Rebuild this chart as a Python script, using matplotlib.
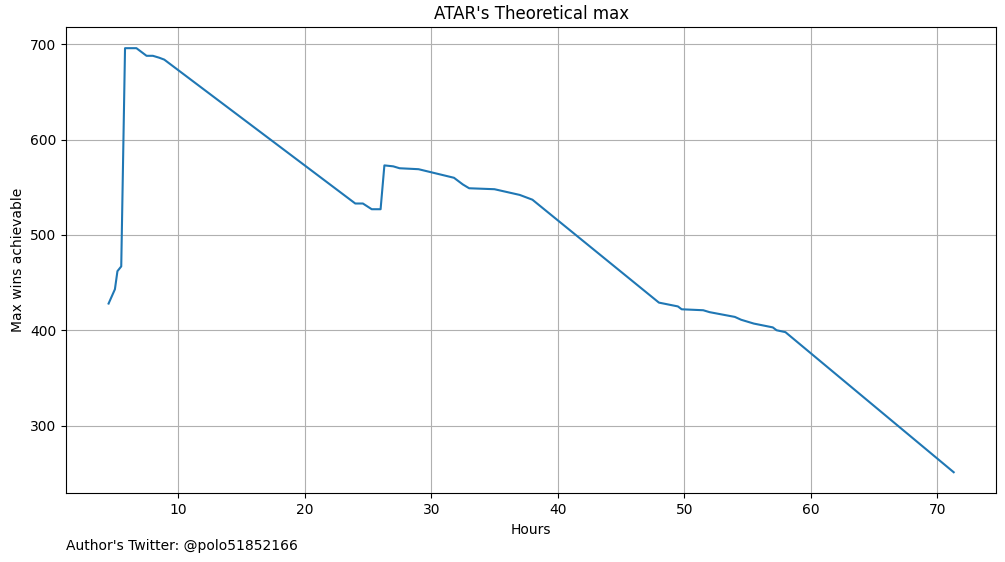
import numpy as np
import matplotlib
matplotlib.use("Agg")
import matplotlib.pyplot as plt

hours = [4.5, 5.0, 5.2, 5.5, 5.8, 6.7, 7.0, 7.5, 8.0, 8.5, 8.9, 9.2,
         24.0, 24.6, 25.3, 26.0, 26.3, 27.0, 27.5, 29.0, 31.8, 32.5, 33.0,
         35.0, 37.0, 38.0, 48.0, 49.5, 49.8, 51.5, 52.0, 54.0, 54.5, 55.5,
         57.0, 57.3, 58.0, 71.3]
max_wins = [428, 443, 462, 467, 696, 696, 693, 688, 688, 686, 684, 681,
            533, 533, 527, 527, 573, 572, 570, 569, 560, 553, 549,
            548, 542, 537, 429, 425, 422, 421, 419, 414, 411, 407,
            403, 400, 398, 251]

fig = plt.figure(figsize=(10.05, 5.62), dpi=100)
ax = fig.add_axes([0.066, 0.122, 0.925, 0.83])
ax.plot(hours, max_wins)
ax.set_title("ATAR's Theoretical max")
ax.set_xlabel('Hours')
ax.set_ylabel('Max wins achievable')
ax.set_yticks([300, 400, 500, 600, 700])
ax.grid()
fig.text(0.066, 0.022, "Author's Twitter: @polo51852166")
fig.savefig('out.png', dpi=100)
